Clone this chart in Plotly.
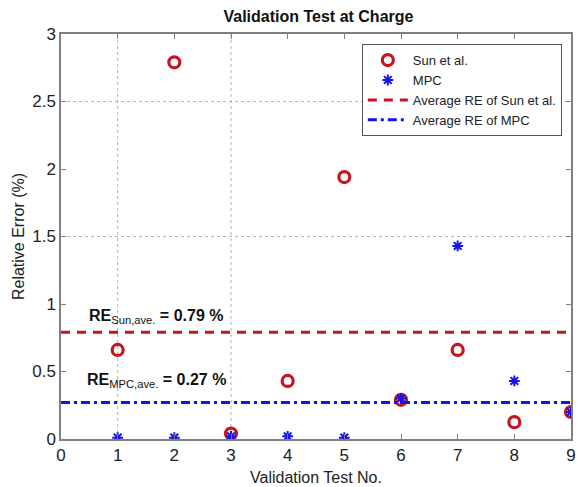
import plotly.graph_objects as go

# Validation tests at charge: relative error (%) per test
tests = [1, 2, 3, 4, 5, 6, 7, 8, 9]
sun_error = [0.66, 2.79, 0.04, 0.43, 1.94, 0.29, 0.66, 0.125, 0.20]
mpc_error = [0.01, 0.01, 0.02, 0.02, 0.01, 0.30, 1.43, 0.43, 0.20]
sun_avg = 0.79
mpc_avg = 0.27
x_span = [0, 9]

x_ticks = list(range(0, 10))
y_ticks = [0, 0.5, 1, 1.5, 2, 2.5, 3]

FONT = "Liberation Sans, Arial, sans-serif"
RED = "#c8141e"
BLUE = "#1414e6"

fig = go.Figure()

fig.add_trace(go.Scatter(
    x=tests, y=sun_error, mode="markers", name="Sun et al.",
    marker=dict(symbol="circle-open", size=11, color=RED, line=dict(width=3.2, color=RED)),
))
fig.add_trace(go.Scatter(
    x=tests, y=mpc_error, mode="markers", name="MPC",
    marker=dict(symbol="asterisk-open", size=9, color=BLUE, line=dict(width=2, color=BLUE)),
))
fig.add_trace(go.Scatter(
    x=x_span, y=[sun_avg, sun_avg], mode="lines", name="Average RE of Sun et al.",
    line=dict(color=RED, width=3, dash="9px,7px"),
))
fig.add_trace(go.Scatter(
    x=x_span, y=[mpc_avg, mpc_avg], mode="lines", name="Average RE of MPC",
    line=dict(color=BLUE, width=3, dash="9px,4px,3px,4px"),
))

# partial dotted grid
grid_style = dict(color="#b4b4b4", width=1, dash="dot")
shapes = []
for gx in [1, 3]:
    shapes.append(dict(type="line", xref="x", yref="y", x0=gx, x1=gx, y0=0, y1=3,
                       line=grid_style, layer="below"))
for gy in [1.5, 2.5]:
    shapes.append(dict(type="line", xref="x", yref="y", x0=0, x1=9, y0=gy, y1=gy,
                       line=grid_style, layer="below"))

annotations = [
    dict(x=0.45, y=0.91, xref="x", yref="y", xanchor="left", yanchor="middle", showarrow=False,
         text="<b>RE</b><sub>Sun,ave.</sub><b> = %.2f %%</b>" % sun_avg,
         font=dict(family=FONT, size=16, color="#111111")),
    dict(x=0.42, y=0.43, xref="x", yref="y", xanchor="left", yanchor="middle", showarrow=False,
         text="<b>RE</b><sub>MPC,ave.</sub><b> = %.2f %%</b>" % mpc_avg,
         font=dict(family=FONT, size=16, color="#111111")),
]

axis_common = dict(
    showgrid=False, zeroline=False, showline=True, linecolor="#808080", linewidth=1.5,
    mirror="ticks", ticks="inside", ticklen=5, tickcolor="#808080",
    tickfont=dict(family=FONT, size=17, color="#222222"),
)

fig.update_layout(
    width=579, height=487,
    margin=dict(l=61, r=3, t=34, b=47),
    paper_bgcolor="white", plot_bgcolor="white",
    title=dict(text="<b>Validation Test at Charge</b>", x=0.55, xanchor="center", y=0.978,
               yanchor="top", font=dict(family=FONT, size=16, color="#111111")),
    xaxis=dict(range=[0, 9], tickvals=x_ticks, ticktext=[str(t) for t in x_ticks],
               title=dict(text="Validation Test No.", standoff=8,
                          font=dict(family=FONT, size=16, color="#222222")),
               **axis_common),
    yaxis=dict(range=[0, 3], tickvals=y_ticks, ticktext=["0", "0.5", "1", "1.5", "2", "2.5", "3"],
               title=dict(text="Relative Error (%)", standoff=4,
                          font=dict(family=FONT, size=16, color="#222222")),
               **axis_common),
    legend=dict(x=0.982, y=0.975, xanchor="right", yanchor="top",
                bgcolor="white", bordercolor="#555555", borderwidth=1,
                font=dict(family=FONT, size=13, color="#222222"),
                tracegroupgap=0, itemwidth=40),
    shapes=shapes,
    annotations=annotations,
    showlegend=True,
)

fig.write_html("out.html")
